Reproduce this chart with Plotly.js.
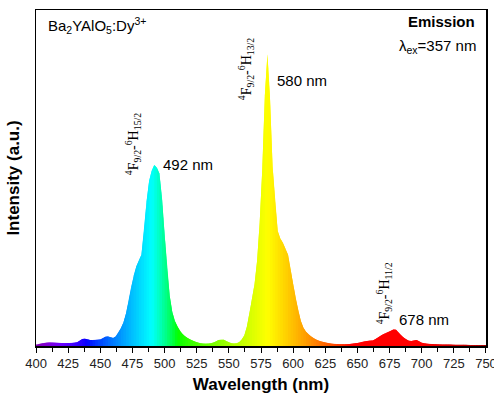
<!DOCTYPE html>
<html>
<head>
<meta charset="utf-8">
<script src="https://cdn.plot.ly/plotly-3.0.1.min.js"></script>
<style>html,body{margin:0;padding:0;background:#fff;}#chart{width:494px;height:394px;}</style>
</head>
<body>
<div id="chart"></div>
<script>
// Wavelength sampling grid (nm)
const wlStart = 400, wlStep = 2;
// Emission intensity (a.u.), one value per 2 nm from 400 to 750 nm
const intensity = [
  0.5,0.7,0.8,1.0,1.1,1.2,1.2,1.1,1.1,1.0,      // 400-418
  1.0,1.0,0.9,1.0,1.0,1.1,1.3,1.8,2.4,2.5,      // 420-438
  2.3,2.0,2.0,2.0,2.1,2.2,2.6,3.1,3.2,3.0,      // 440-458
  2.7,3.2,4.5,6.0,8.0,11,15,20,24,27,           // 460-478
  29,31,39,49,56,59.5,61.4,60.5,58.5,50,        // 480-498
  38,26,17,11.5,8.5,6.5,5.0,4.0,3.2,2.6,        // 500-518
  2.2,1.8,1.4,1.1,0.9,0.8,0.8,0.8,0.9,1.1,      // 520-538
  1.5,2.0,2.1,2.1,1.7,1.2,0.9,0.8,0.9,1.3,      // 540-558
  2.2,3.6,6.5,11,16,21,29,42,60,85,             // 560-578
  99,84,61,49,39,36.5,35,33,31,26,              // 580-598
  21,16,12,8.5,6.2,4.8,3.9,3.2,2.6,2.1,         // 600-618
  1.8,1.5,1.3,1.1,0.9,0.8,0.7,0.7,0.6,0.6,      // 620-638
  0.6,0.6,0.7,0.8,0.9,1.0,1.1,1.4,1.6,1.7,      // 640-658
  1.9,1.9,2.3,2.9,3.5,4.0,4.4,4.7,5.2,5.6,      // 660-678
  5.5,4.6,3.6,2.8,2.2,1.8,1.7,1.9,2.0,1.6,      // 680-698
  1.1,0.9,0.8,0.7,0.7,0.6,0.6,0.5,0.5,0.5,      // 700-718
  0.5,0.5,0.4,0.4,0.4,0.4,0.4,0.4,0.3,0.3,      // 720-738
  0.3,0.3,0.3,0.3,0.3,0.3                       // 740-750
];
const wavelength = intensity.map((_, i) => wlStart + i * wlStep);

// Axis ticks
const xTickVals = [400,425,450,475,500,525,550,575,600,625,650,675,700,725,750];
const xTickText = xTickVals.map(String);

// Peak labels
const peakNm = [492, 580, 678];
const peakLabel = ['492 nm', '580 nm', '678 nm'];
const transitionLabel = [
  '<sup>4</sup>F<sub>9/2</sub>-<sup>6</sup>H<sub>15/2</sub>',
  '<sup>4</sup>F<sub>9/2</sub>-<sup>6</sup>H<sub>13/2</sub>',
  '<sup>4</sup>F<sub>9/2</sub>-<sup>6</sup>H<sub>11/2</sub>'
];

// wavelength -> visible colour (style only)
function wlColor(w) {
  let r = 0, g = 0, b = 0;
  if (w < 440) { r = -(w - 440) / 60; b = 1; }
  else if (w < 490) { g = (w - 440) / 50; b = 1; }
  else if (w < 510) { g = 1; b = -(w - 510) / 20; }
  else if (w < 580) { r = (w - 510) / 70; g = 1; }
  else if (w < 645) { r = 1; g = -(w - 645) / 65; }
  else { r = 1; }
  let f = 1;
  if (w < 420) f = 0.3 + 0.7 * (w - 380) / 40;
  else if (w > 700) f = 0.3 + 0.7 * (780 - w) / 80;
  const c = v => Math.round(255 * Math.pow(v * f, 0.8));
  return 'rgb(' + c(r) + ',' + c(g) + ',' + c(b) + ')';
}

// One filled piece per sampling interval, coloured by its wavelength.
// Each piece also runs under the next interval so no seams show.
const traces = [];
for (let i = 0; i < wavelength.length - 1; i++) {
  const end = Math.min(i + 2, wavelength.length - 1);
  const xs = wavelength.slice(i, end + 1);
  const ys = intensity.slice(i, end + 1);
  const col = wlColor((wavelength[i] + wavelength[i + 1]) / 2);
  traces.push({
    type: 'scatter', mode: 'lines', x: xs, y: ys,
    fill: 'tozeroy', fillcolor: col,
    line: { width: 0, color: col },
    hoverinfo: 'skip', showlegend: false
  });
}

const txtFont = { family: 'Liberation Sans, Arial, sans-serif', size: 15, color: '#000' };
const serif = { family: 'Liberation Serif, Times New Roman, serif', size: 14, color: '#000' };

const annotations = [
  { xref: 'paper', yref: 'paper', x: 0.022, y: 0.955, xanchor: 'left', yanchor: 'middle',
    text: 'Ba<sub>2</sub>YAlO<sub>5</sub>:Dy<sup>3+</sup>', showarrow: false, font: txtFont },
  { xref: 'paper', yref: 'paper', x: 0.98, y: 0.965, xanchor: 'right', yanchor: 'middle',
    text: '<b>Emission</b>', showarrow: false, font: txtFont },
  { xref: 'paper', yref: 'paper', x: 0.982, y: 0.89, xanchor: 'right', yanchor: 'middle',
    text: 'λ<sub>ex</sub>=357 nm', showarrow: false, font: txtFont },
  { xref: 'x', yref: 'y', x: peakNm[0] + 5, y: 61.5, xanchor: 'left', yanchor: 'middle',
    text: peakLabel[0], showarrow: false, font: txtFont },
  { xref: 'x', yref: 'y', x: peakNm[1] + 6, y: 90, xanchor: 'left', yanchor: 'middle',
    text: peakLabel[1], showarrow: false, font: txtFont },
  { xref: 'x', yref: 'y', x: peakNm[2] + 3, y: 9, xanchor: 'left', yanchor: 'middle',
    text: peakLabel[2], showarrow: false, font: txtFont },
  { xref: 'x', yref: 'y', x: 475.5, y: 68.5, textangle: -90, xanchor: 'center', yanchor: 'middle',
    text: transitionLabel[0], showarrow: false, font: serif },
  { xref: 'x', yref: 'y', x: 563.5, y: 94, textangle: -90, xanchor: 'center', yanchor: 'middle',
    text: transitionLabel[1], showarrow: false, font: serif },
  { xref: 'x', yref: 'y', x: 671, y: 18, textangle: -90, xanchor: 'center', yanchor: 'middle',
    text: transitionLabel[2], showarrow: false, font: serif }
];

const layout = {
  width: 494, height: 394,
  margin: { l: 36, r: 8, t: 10, b: 48 },
  paper_bgcolor: '#fff', plot_bgcolor: '#fff',
  showlegend: false,
  xaxis: {
    range: [399.99, 750.01], tickvals: xTickVals, ticktext: xTickText,
    ticklabeloverflow: 'allow',
    ticks: 'outside', ticklen: 5, tickwidth: 1, tickcolor: '#000',
    minor: { dtick: 12.5, tick0: 400, ticks: 'outside', ticklen: 4, tickcolor: '#000', tickwidth: 1 },
    showline: true, linecolor: '#000', linewidth: 1.5, mirror: true,
    showgrid: false, zeroline: false,
    tickfont: { family: 'Liberation Sans, Arial, sans-serif', size: 13, color: '#222' },
    title: { text: '<b>Wavelength (nm)</b>', standoff: 8,
             font: { family: 'Liberation Sans, Arial, sans-serif', size: 17, color: '#000' } }
  },
  yaxis: {
    range: [0, 114], showticklabels: false, ticks: '',
    showline: true, linecolor: '#000', linewidth: 1.5, mirror: true,
    showgrid: false, zeroline: false,
    title: { text: '<b>Intensity (a.u.)</b>', standoff: 10,
             font: { family: 'Liberation Sans, Arial, sans-serif', size: 17, color: '#000' } }
  },
  annotations: annotations
};

Plotly.newPlot('chart', traces, layout, { displayModeBar: false, staticPlot: true });
</script>
</body>
</html>
